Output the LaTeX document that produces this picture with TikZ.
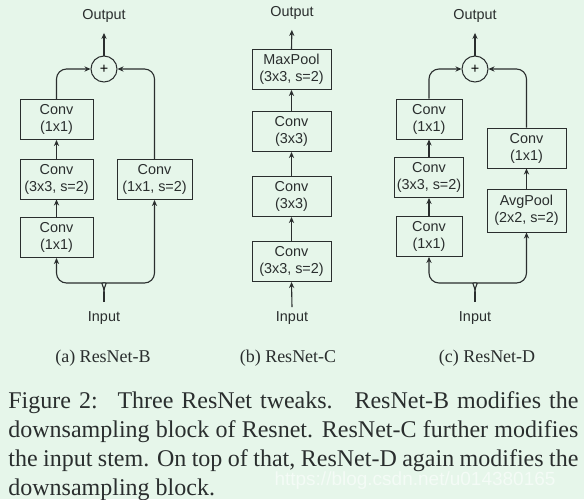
\documentclass[tikz,border=0pt]{standalone}
\usepackage{fontspec}
\setmainfont{Liberation Serif}
\newfontfamily\diagfont{Liberation Sans}
\usetikzlibrary{arrows.meta, positioning, calc}
\definecolor{bgmint}{RGB}{230,246,234}
\definecolor{inkgray}{RGB}{42,46,46}
\definecolor{markgray}{RGB}{244,251,246}
\tikzset{
  layer/.style={rectangle, draw=inkgray, fill=bgmint, align=center,
    minimum height=20pt, inner sep=1pt, text=inkgray,
    font=\diagfont\fontsize{7.2}{8.5}\selectfont, line width=0.5pt},
  addnode/.style={circle, draw=inkgray, minimum size=13pt, inner sep=0pt,
    font=\diagfont\fontsize{7.2}{9}\selectfont, line width=0.5pt},
  ioname/.style={inner sep=2pt, text=inkgray,
    font=\diagfont\fontsize{7.2}{9}\selectfont},
  subcap/.style={inner sep=0pt, text=inkgray, font=\fontsize{9}{10.5}\selectfont},
  flow/.style={-{Stealth[length=3pt,width=2.6pt]}, color=inkgray,
    line width=0.55pt, rounded corners=5pt},
  wire/.style={color=inkgray, line width=0.55pt}
}
\begin{document}
\begin{tikzpicture}[x=0.5pt, y=-0.5pt]
  \fill[bgmint] (0,0) rectangle (584,499);
  \useasboundingbox (0,0) rectangle (584,499);

  % (a) ResNet-B
  \node[ioname] (aout) at (104,16) {Output};
  \node[addnode] (aadd) at (104,69) {+};
  \node[layer, minimum width=36.5pt] (a3) at (56.5,119.5) {Conv\\(1x1)};
  \node[layer, minimum width=36.5pt] (a2) at (56.5,179) {Conv\\(3x3, s=2)};
  \node[layer, minimum width=36.5pt] (a1) at (56.5,237.5) {Conv\\(1x1)};
  \node[layer, minimum width=37.5pt] (ar) at (154.5,179.5) {Conv\\(1x1, s=2)};
  \node[ioname] (ain) at (104,318) {Input};
  \coordinate (atip) at (104,302);
  \coordinate (asplit) at (104,292);

  \draw[flow] (a1.north) -- (a2.south);
  \draw[flow] (a2.north) -- (a3.south);
  \draw[flow] (a3.north) |- (aadd.west);
  \draw[flow] (ar.north) |- (aadd.east);
  \draw[flow, shorten >=3pt] (aadd.north) -- (aout.south);
  \draw[wire] (atip) -- (asplit);
  \draw[flow] (asplit) .. controls (104,285) and (100,283) .. (93,283) -| (a1.south);
  \draw[flow] (asplit) .. controls (104,285) and (108,283) .. (115,283) -| (ar.south);
  \node[subcap] (acap) at (103,358) {(a) ResNet-B};

  % (b) ResNet-C
  \node[ioname] (bout) at (292,13) {Output};
  \node[layer, minimum width=39.5pt] (b4) at (291.5,69.5) {MaxPool\\(3x3, s=2)};
  \node[layer, minimum width=39.5pt] (b3) at (291.5,131.5) {Conv\\(3x3)};
  \node[layer, minimum width=39.5pt] (b2) at (291.5,196.5) {Conv\\(3x3)};
  \node[layer, minimum width=39.5pt] (b1) at (291.5,261.5) {Conv\\(3x3, s=2)};
  \node[ioname] (bin) at (292,318) {Input};

  \draw[flow] (bin.north) -- (b1.south);
  \draw[flow] (b1.north) -- (b2.south);
  \draw[flow] (b2.north) -- (b3.south);
  \draw[flow] (b3.north) -- (b4.south);
  \draw[flow, shorten >=3pt] (b4.north) -- (bout.south);
  \node[subcap] (bcap) at (288,358) {(b) ResNet-C};

  % (c) ResNet-D
  \node[ioname] (cout) at (475,16) {Output};
  \node[addnode] (cadd) at (475,69) {+};
  \node[layer, minimum width=33pt] (c3) at (429,119) {Conv\\(1x1)};
  \node[layer, minimum width=33pt] (c2) at (429,177.5) {Conv\\(3x3, s=2)};
  \node[layer, minimum width=33pt] (c1) at (429,236.5) {Conv\\(1x1)};
  \node[layer, minimum width=39.5pt] (cr2) at (526.5,148) {Conv\\(1x1)};
  \node[layer, minimum width=39.5pt, minimum height=21.5pt] (cr1) at (526.5,210.5) {AvgPool\\(2x2, s=2)};
  \node[ioname] (cin) at (475,318) {Input};
  \coordinate (ctip) at (475,302);
  \coordinate (csplit) at (475,292);

  \draw[flow] (c1.north) -- (c2.south);
  \draw[flow] (c2.north) -- (c3.south);
  \draw[flow] (c3.north) |- (cadd.west);
  \draw[flow] (cr1.north) -- (cr2.south);
  \draw[flow] (cr2.north) |- (cadd.east);
  \draw[flow, shorten >=3pt] (cadd.north) -- (cout.south);
  \draw[wire] (ctip) -- (csplit);
  \draw[flow] (csplit) .. controls (475,285) and (471,283) .. (464,283) -| (c1.south);
  \draw[flow] (csplit) .. controls (475,285) and (479,283) .. (486,283) -| (cr1.south);
  \node[subcap] (ccap) at (487,358) {(c) ResNet-D};

  % caption
  \node[text=markgray, font=\diagfont\fontsize{9.5}{11}\selectfont,
    inner sep=0pt] (mark) at (415,481) {https://blog.csdn.net/u014380165};
  \node[anchor=north west, inner sep=0pt, text width=285pt, align=justify,
    text=inkgray, font=\fontsize{12}{14.6}\selectfont] (figcap) at (8,391)
    {Figure 2: \ Three ResNet tweaks. \ ResNet-B modifies the\linebreak
     downsampling block of Resnet. ResNet-C further modifies\linebreak
     the input stem. On top of that, ResNet-D again modifies the\linebreak
     downsampling block.};
\end{tikzpicture}
\end{document}
